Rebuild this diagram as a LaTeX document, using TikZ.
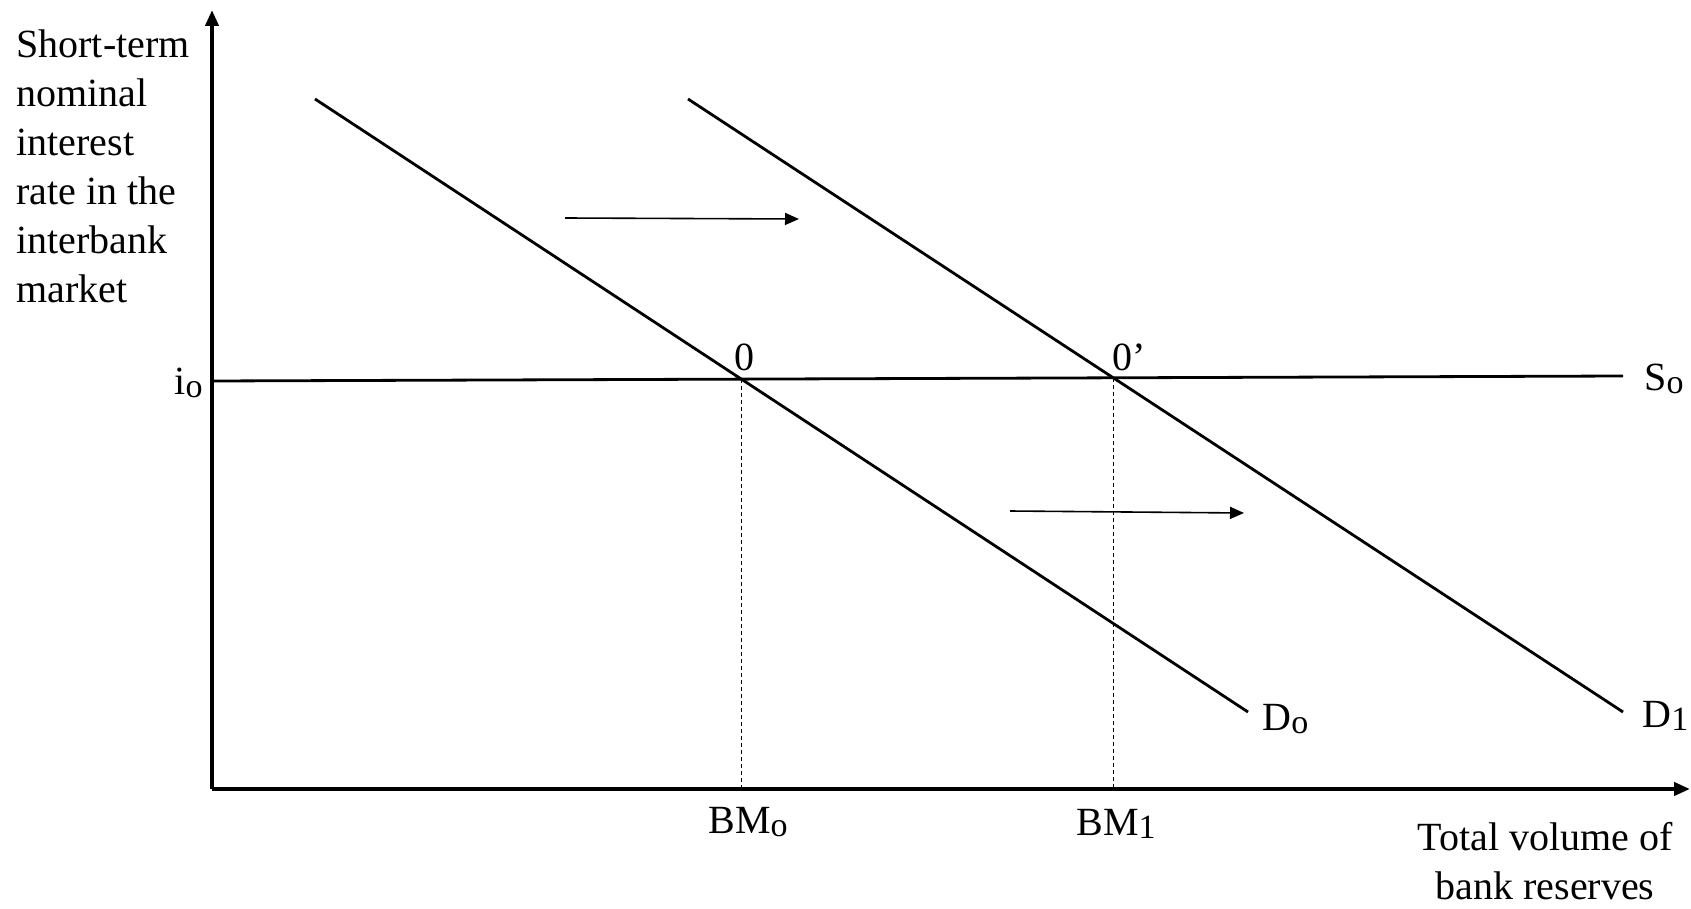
\documentclass[tikz,border=0pt]{standalone}
\usepackage{fontspec}
\setmainfont{Liberation Serif}
\usetikzlibrary{arrows.meta,positioning,calc,intersections}
\newcommand{\lowidx}[1]{{\fontsize{17}{17}\selectfont\raisebox{-1.5pt}{#1}}}

\begin{document}
\begin{tikzpicture}[x=0.5pt,y=-0.5pt,
  txt/.style={inner sep=0pt,font=\fontsize{20}{24.5}\selectfont},
  axis/.style={line width=2pt,-{Triangle[length=8pt,width=6.5pt]}},
  curve/.style={line width=1.4pt},
  shiftarrow/.style={line width=0.8pt,-{Triangle[length=7pt,width=6pt]}},
  guide/.style={line width=0.5pt,dashed,dash pattern=on 2pt off 1.5pt}]
  \useasboundingbox (0,0) rectangle (1691,909);
  \coordinate (O) at (212,789);
  \coordinate (ytop) at (212,10);
  \coordinate (xend) at (1690,789);
  % axes
  \draw[axis] (O) -- (ytop);
  \draw[axis] (O) -- (xend);
  \node[txt,anchor=north west,align=left] (ylab) at (16,29)
    {Short-term\\nominal\\interest\\rate in the\\interbank\\market};
  \node[txt,align=center] (xlab) at (1545,861)
    {Total volume of\\bank reserves};
  % supply and demand
  \coordinate (s0a) at (212,381);
  \coordinate (s0b) at (1623,376);
  \coordinate (d0a) at (315,99);
  \coordinate (d0b) at (1248,712);
  \coordinate (d1a) at (688,99);
  \coordinate (d1b) at (1623,712);
  \draw[curve,name path=S0] (s0a) -- (s0b);
  \draw[curve,name path=D0] (d0a) -- (d0b);
  \draw[curve,name path=D1] (d1a) -- (d1b);
  \path[name intersections={of=D0 and S0,by=E0}];
  \path[name intersections={of=D1 and S0,by=E1}];
  \node[txt,anchor=west] (slab) at (1644,379) {S\lowidx{o}};
  \node[txt,anchor=west] (d0lab) at (1262,719) {D\lowidx{o}};
  \node[txt,anchor=west] (d1lab) at (1642,716) {D\lowidx{1}};
  \node[txt,anchor=east] (ilab) at (203,383) {i\lowidx{o}};
  \node[txt] (e0lab) at (744,357) {0};
  \node[txt] (e1lab) at (1129,357) {0’};
  % guides to the x axis
  \draw[guide] (E0) -- (E0 |- O);
  \draw[guide] (E1) -- (E1 |- O);
  \node[txt] (bm0) at (748,822) {BM\lowidx{o}};
  \node[txt] (bm1) at (1116,824) {BM\lowidx{1}};
  % shift of demand
  \coordinate (a1s) at (565,218);
  \coordinate (a1e) at (799,219);
  \coordinate (a2s) at (1010,511);
  \coordinate (a2e) at (1244,513);
  \draw[shiftarrow] (a1s) -- (a1e);
  \draw[shiftarrow] (a2s) -- (a2e);
\end{tikzpicture}
\end{document}
